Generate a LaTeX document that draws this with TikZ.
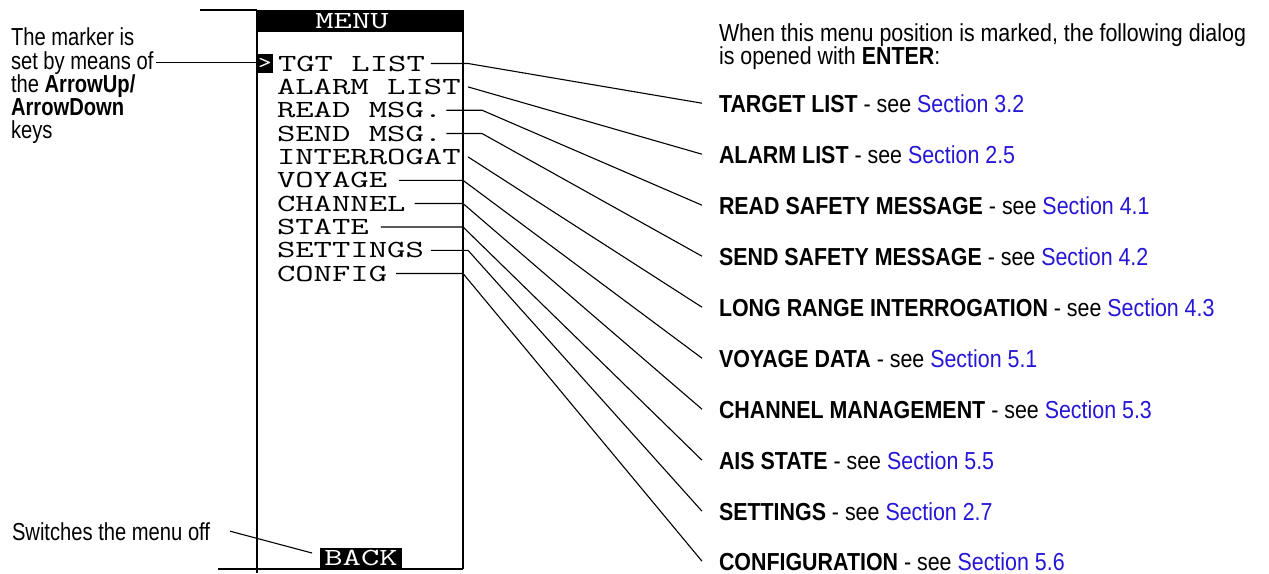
\documentclass[tikz,border=0pt]{standalone}
\usepackage{fontspec}
\setmainfont{Liberation Sans}[FakeStretch=0.87]
\newfontfamily\sidefont{Liberation Sans}[FakeStretch=0.82]
\newfontfamily\menufont{Latin Modern Mono}[FakeStretch=1.45]
\definecolor{linkblue}{RGB}{38,22,214}
\newcommand{\sect}[1]{\textcolor{linkblue}{Section #1}}
\newcommand{\menusize}{\menufont\fontsize{12.3}{12.3}\selectfont}
\begin{document}
\begin{tikzpicture}[x=0.5pt,y=-0.5pt,
  every node/.style={inner sep=0pt,outer sep=0pt},
  menuitem/.style={anchor=base west,font=\menusize,text height=7.5pt,text depth=0pt},
  inverse/.style={fill=black,text=white,font=\menusize},
  note/.style={anchor=base west,font=\fontsize{12.3}{11.5}\selectfont},
  sidenote/.style={anchor=base west,font=\sidefont\fontsize{12.3}{11.5}\selectfont},
  frame/.style={line width=0.8pt},
  lead/.style={line width=0.55pt}]
\useasboundingbox (0,0) rectangle (1269,573);

% display frame
\draw[frame] (200,10) -- (257,10);
\fill (257,10) rectangle (463,32);
\draw[frame] (257,10) -- (257,573);
\draw[frame] (463,10) -- (463,569);
\draw[frame] (218,569) -- (463,569);
\node[anchor=base,text=white,font=\menusize] (menu) at (352,28) {MENU};

% cursor mark and menu entries
\node[fill=black,text=white,minimum width=8pt,minimum height=9.5pt,
      font=\menufont\bfseries\fontsize{9}{9}\selectfont] (marker) at (265,63.5) {>};
\node[menuitem] (tgt)  at (278,71)    {TGT LIST};
\node[menuitem] (alm)  at (277,94.4)  {ALARM LIST};
\node[menuitem] (rdm)  at (277,117.7) {READ MSG.};
\node[menuitem] (sdm)  at (277,141)   {SEND MSG.};
\node[menuitem] (itg)  at (277,164.4) {INTERROGAT};
\node[menuitem] (voy)  at (277,187.8) {VOYAGE};
\node[menuitem] (chn)  at (277,211)   {CHANNEL};
\node[menuitem] (sta)  at (277,234.5) {STATE};
\node[menuitem] (set)  at (277,257.8) {SETTINGS};
\node[menuitem] (cfg)  at (277,281)   {CONFIG};
\node[inverse,minimum width=41pt,minimum height=10pt] (back) at (361,558) {BACK};

% left-hand notes
\node[sidenote] (n1) at (11,46)  {The marker is};
\node[sidenote] (n2) at (11,69)  {set by means of};
\node[sidenote] (n3) at (11,92)  {the \textbf{ArrowUp/}};
\node[sidenote] (n4) at (11,115) {\textbf{ArrowDown}};
\node[sidenote] (n5) at (11,138) {keys};
\node[sidenote] (sw) at (12,540) {Switches the menu off};

% right-hand descriptions
\node[note] (h1) at (719,41) {When this menu position is marked, the following dialog};
\node[note] (h2) at (719,64) {is opened with \textbf{ENTER}:};
\node[note] (t1)  at (719,112) {\textbf{TARGET LIST} - see \sect{3.2}};
\node[note] (t2)  at (719,163) {\textbf{ALARM LIST} - see \sect{2.5}};
\node[note] (t3)  at (719,214) {\textbf{READ SAFETY MESSAGE} - see \sect{4.1}};
\node[note] (t4)  at (719,265) {\textbf{SEND SAFETY MESSAGE} - see \sect{4.2}};
\node[note] (t5)  at (719,316) {\textbf{LONG RANGE INTERROGATION} - see \sect{4.3}};
\node[note] (t6)  at (719,367) {\textbf{VOYAGE DATA} - see \sect{5.1}};
\node[note] (t7)  at (719,418) {\textbf{CHANNEL MANAGEMENT} - see \sect{5.3}};
\node[note] (t8)  at (719,469) {\textbf{AIS STATE} - see \sect{5.5}};
\node[note] (t9)  at (719,520) {\textbf{SETTINGS} - see \sect{2.7}};
\node[note] (t10) at (719,570) {\textbf{CONFIGURATION} - see \sect{5.6}};

% elbow columns of the leader lines
\coordinate (ea) at (463,0);
\coordinate (eb) at (468,0);
\coordinate (ec) at (482,0);

% leader lines
\draw[lead] ([xshift=1.5pt]n2.east) -- (n2.east -| marker.west);
\draw[lead] ([xshift=10pt]sw.east) -- ([xshift=-4pt,yshift=2.5pt]back.west);
\draw[lead] ([xshift=3pt]tgt.east) -- (tgt.east -| eb) -- ([xshift=-8.5pt]t1.west);
\draw[lead] (alm.east -| eb) -- ([xshift=-8.5pt]t2.west);
\draw[lead] ([xshift=2pt]rdm.east) -- (rdm.east -| ec) -- ([xshift=-8.5pt]t3.west);
\draw[lead] ([xshift=2pt]sdm.east) -- (sdm.east -| ec) -- ([xshift=-8.5pt]t4.west);
\draw[lead] (itg.east -| eb) -- ([xshift=-8.5pt]t5.west);
\draw[lead] ([xshift=6pt]voy.east) -- (voy.east -| ea) -- ([xshift=-8.5pt]t6.west);
\draw[lead] ([xshift=4.5pt]chn.east) -- (chn.east -| ea) -- ([xshift=-8.5pt]t7.west);
\draw[lead] ([xshift=6pt]sta.east) -- (sta.east -| ea) -- ([xshift=-8.5pt]t8.west);
\draw[lead] ([xshift=3.5pt]set.east) -- (set.east -| eb) -- ([xshift=-8.5pt]t9.west);
\draw[lead] ([xshift=4.5pt]cfg.east) -- (cfg.east -| ea) -- ([xshift=-8.5pt]t10.west);
\end{tikzpicture}
\end{document}
